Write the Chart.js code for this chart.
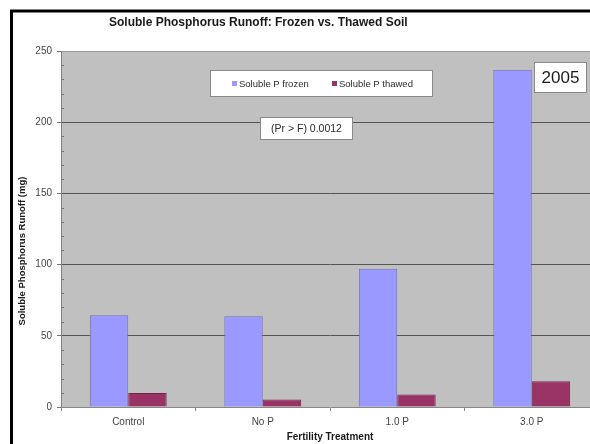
<!DOCTYPE html>
<html>
<head>
<meta charset="utf-8">
<script src="https://cdn.jsdelivr.net/npm/chart.js@4"></script>
<style>
  html, body { margin: 0; padding: 0; background: #fff; overflow: hidden; }
  #wrap { width: 600px; height: 444px; }
</style>
</head>
<body>
<div id="wrap"><canvas id="runoffChart" width="600" height="444"></canvas></div>
<script>
// data
const treatments = ["Control", "No P", "1.0 P", "3.0 P"];
const frozenP = [64.4, 63.7, 97.1, 236.9];
const thawedP = [9.8, 5.3, 8.8, 18.0];
const yTicks = [0, 50, 100, 150, 200, 250];

const chartTitle = "Soluble Phosphorus Runoff: Frozen vs. Thawed Soil";
const yTitle = "Soluble Phosphorus Runoff (mg)";
const xTitle = "Fertility Treatment";
const noteText = "(Pr > F) 0.0012";
const yearText = "2005";

const FONT = '"Liberation Sans", Arial, sans-serif';

function boxedText(ctx, x, y, w, h, text, font, color) {
  ctx.fillStyle = "#fff";
  ctx.fillRect(x, y, w, h);
  ctx.strokeStyle = "#8a8a8a";
  ctx.lineWidth = 1;
  ctx.strokeRect(x + 0.5, y + 0.5, w - 1, h - 1);
  ctx.font = font;
  ctx.fillStyle = color;
  ctx.textAlign = "center";
  ctx.textBaseline = "middle";
  ctx.fillText(text, x + w / 2, y + h / 2 + 0.5);
}

const decorPlugin = {
  id: "decor",
  beforeDraw(chart) {
    const { ctx, chartArea: a } = chart;
    ctx.save();
    ctx.fillStyle = "#fff";
    ctx.fillRect(0, 0, chart.width, chart.height);
    ctx.fillStyle = "#c0c0c0";
    ctx.fillRect(a.left, a.top, a.right - a.left, a.bottom - a.top);
    ctx.restore();
  },
  afterDraw(chart) {
    const { ctx, chartArea: a } = chart;
    const y = chart.scales.y;
    ctx.save();

    // minor ticks every 10 on the value axis
    ctx.strokeStyle = "#777";
    ctx.lineWidth = 1;
    for (let v = 10; v < 250; v += 10) {
      if (v % 50 === 0) continue;
      const py = Math.round(y.getPixelForValue(v)) + 0.5;
      ctx.beginPath();
      ctx.moveTo(a.left, py);
      ctx.lineTo(a.left + 3, py);
      ctx.stroke();
    }

    // outer frame (cut off on the right and bottom)
    ctx.strokeStyle = "#000";
    ctx.lineWidth = 3;
    ctx.beginPath();
    ctx.moveTo(11.5, chart.height + 5);
    ctx.lineTo(11.5, 11);
    ctx.lineTo(chart.width + 5, 11);
    ctx.stroke();

    // title
    ctx.font = "bold 12px " + FONT;
    ctx.fillStyle = "#1a1a1a";
    ctx.textAlign = "left";
    ctx.textBaseline = "alphabetic";
    ctx.fillText(chartTitle, 109, 26);

    // y axis title
    ctx.save();
    ctx.translate(25, 251);
    ctx.rotate(-Math.PI / 2);
    ctx.font = "bold 9.5px " + FONT;
    ctx.fillStyle = "#1a1a1a";
    ctx.textAlign = "center";
    ctx.textBaseline = "alphabetic";
    ctx.fillText(yTitle, 0, 0);
    ctx.restore();

    // legend box
    const lx = 210, ly = 70, lw = 223, lh = 27;
    ctx.fillStyle = "#fff";
    ctx.fillRect(lx, ly, lw, lh);
    ctx.strokeStyle = "#8a8a8a";
    ctx.lineWidth = 1;
    ctx.strokeRect(lx + 0.5, ly + 0.5, lw - 1, lh - 1);
    const starts = [232, 332];
    ctx.font = "9.5px " + FONT;
    ctx.textAlign = "left";
    ctx.textBaseline = "middle";
    chart.data.datasets.forEach((ds, i) => {
      const mx = starts[i];
      ctx.fillStyle = ds.backgroundColor;
      ctx.fillRect(mx, 81, 5, 5);
      ctx.fillStyle = "#2a2a2a";
      ctx.fillText(ds.label, mx + 7, 84);
    });

    // statistics note and year label
    boxedText(ctx, 260, 117, 93, 23, noteText, "10.5px " + FONT, "#2a2a2a");
    boxedText(ctx, 534, 62, 53, 31, yearText, "17px " + FONT, "#1a1a1a");

    ctx.restore();
  }
};

const ctx = document.getElementById("runoffChart").getContext("2d");
const chart = new Chart(ctx, {
  type: "bar",
  data: {
    labels: treatments,
    datasets: [
      {
        label: "Soluble P frozen",
        data: frozenP,
        backgroundColor: "#9999ff",
        borderColor: "#6f6fb8",
        borderWidth: 1,
        categoryPercentage: 2 / 3.5,
        barPercentage: 1
      },
      {
        label: "Soluble P thawed",
        data: thawedP,
        backgroundColor: "#993366",
        borderColor: "#702448",
        borderWidth: 1,
        categoryPercentage: 2 / 3.5,
        barPercentage: 1
      }
    ]
  },
  options: {
    responsive: false,
    animation: false,
    devicePixelRatio: 1,
    layout: { padding: { top: 51, right: 1, left: 0, bottom: 0 } },
    plugins: {
      legend: { display: false },
      title: { display: false },
      tooltip: { enabled: false }
    },
    scales: {
      x: {
        afterFit(scale) { scale.height = 37; },
        grid: {
          offset: true,
          drawOnChartArea: false,
          drawTicks: true,
          tickLength: 4,
          color: "#888"
        },
        border: { color: "#888", width: 1 },
        ticks: {
          font: { family: FONT, size: 10 },
          color: "#444",
          padding: 5,
          maxRotation: 0
        },
        title: {
          display: true,
          text: xTitle,
          font: { family: FONT, size: 10, weight: "bold" },
          color: "#1a1a1a",
          padding: { top: 0, bottom: 1 }
        }
      },
      y: {
        min: 0,
        max: 250,
        afterFit(scale) { scale.width = 61; },
        afterBuildTicks(scale) {
          scale.ticks = yTicks.map(v => ({ value: v }));
        },
        grid: {
          drawTicks: true,
          tickLength: 4,
          color(c) {
            if (c.tick.value === 0) return "rgba(0,0,0,0)";
            if (c.tick.value === 250) return "#9a9a9a";
            return "#555";
          },
          tickColor: "#777"
        },
        border: { color: "#808080", width: 1 },
        ticks: {
          font: { family: FONT, size: 10 },
          color: "#444",
          padding: 5
        }
      }
    }
  },
  plugins: [decorPlugin]
});
</script>
</body>
</html>
